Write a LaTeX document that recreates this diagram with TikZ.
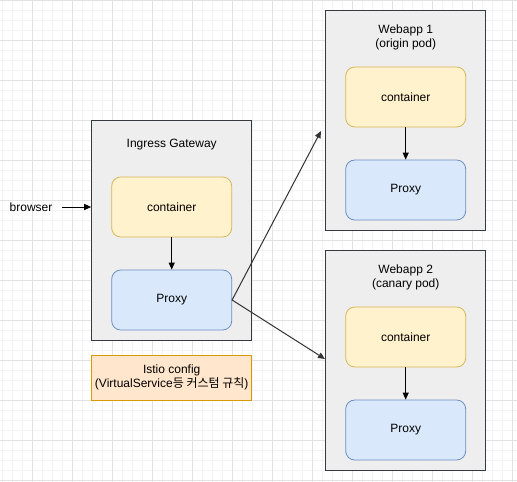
\documentclass[tikz,border=0pt]{standalone}
\usepackage{fontspec}
\setmainfont{Liberation Sans}
\newfontfamily\cjk{Noto Sans CJK KR}
\usetikzlibrary{arrows.meta}
\definecolor{podfill}{HTML}{EEEEEE}
\definecolor{podline}{HTML}{36393D}
\definecolor{cfill}{HTML}{FFF2CC}
\definecolor{cline}{HTML}{D6B656}
\definecolor{pfill}{HTML}{DAE8FC}
\definecolor{pline}{HTML}{6C8EBF}
\definecolor{ifill}{HTML}{FFE6CC}
\definecolor{iline}{HTML}{D79B00}
\definecolor{gminor}{HTML}{F3F3F3}
\definecolor{gmajor}{HTML}{E2E2E2}
\definecolor{arr}{HTML}{333333}
\tikzset{
  pod/.style={draw=podline, fill=podfill, line width=1pt, minimum width=160pt, minimum height=220pt, inner sep=0pt},
  contbox/.style={draw=cline, fill=cfill, rounded corners=9pt, line width=0.8pt, minimum width=120pt, minimum height=60pt, inner sep=0pt, font=\fontsize{12pt}{14pt}\selectfont},
  proxbox/.style={draw=pline, fill=pfill, rounded corners=9pt, line width=0.8pt, minimum width=120pt, minimum height=60pt, inner sep=0pt, font=\fontsize{12pt}{14pt}\selectfont},
  lbl/.style={inner sep=0pt, align=center, font=\fontsize{12pt}{14pt}\selectfont},
  conn/.style={-{Triangle[length=7pt,width=6pt]}, line width=1pt, draw=arr},
  blk/.style={-{Triangle[length=7pt,width=6pt]}, line width=1pt, draw=black}
}
\begin{document}
\begin{tikzpicture}[x=1pt,y=-1pt]
\useasboundingbox (0,0) rectangle (517,482);
\fill[white] (0,0) rectangle (517,482);
\foreach \x in {2,12,...,512} \draw[gminor, line width=0.6pt] (\x,0) -- (\x,482);
\foreach \y in {0,10,...,480} \draw[gminor, line width=0.6pt] (0,\y) -- (517,\y);
\foreach \x in {32,72,...,512} \draw[gmajor, line width=0.8pt] (\x,0) -- (\x,482);
\foreach \y in {0,40,...,480} \draw[gmajor, line width=0.8pt] (0,\y) -- (517,\y);

% Ingress gateway
\node[pod] (ig) at (171.7,230) {};
\node[lbl] (igt) at (171.7,145) {Ingress Gateway};
\node[contbox] (igc) at (171.7,207) {container};
\node[proxbox] (igp) at (171.7,300) {Proxy};
\node[lbl] (br) at (31,207) {browser};
\coordinate (bs) at (62,207);
\draw[blk] (bs) -- (ig.west |- bs);
\draw[blk] (igc) -- (igp);

% Istio config
\node[draw=iline, fill=ifill, line width=0.8pt, minimum width=160pt, minimum height=45pt, inner sep=0pt, lbl] (ic) at (171.7,377.5) {Istio config\\(VirtualService{\cjk 등 커스텀 규칙})};

% Webapp 1
\node[pod] (w1) at (405.7,120.3) {};
\node[lbl] (w1t) at (405.7,37) {Webapp 1\\(origin pod)};
\node[contbox] (w1c) at (405.7,97) {container};
\node[proxbox] (w1p) at (405.7,190) {Proxy};
\draw[blk] (w1c) -- (w1p);

% Webapp 2
\node[pod] (w2) at (405.7,360.3) {};
\node[lbl] (w2t) at (405.7,277) {Webapp 2\\(canary pod)};
\node[contbox] (w2c) at (405.7,337) {container};
\node[proxbox] (w2p) at (405.7,430) {Proxy};
\draw[blk] (w2c) -- (w2p);

% connectors
\coordinate (e1) at (321,131);
\coordinate (e2) at (325,359);
\draw[conn] (igp.east) -- (e1);
\draw[conn] (igp.east) -- (e2);
\end{tikzpicture}
\end{document}
